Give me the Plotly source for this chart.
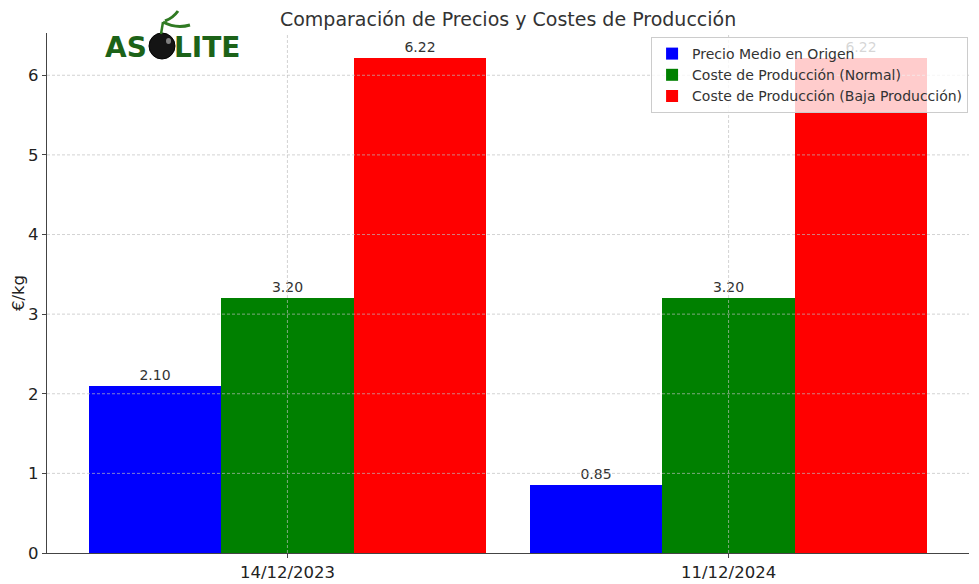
import plotly.graph_objects as go

fechas = ["14/12/2023", "11/12/2024"]
precio_origen = [2.10, 0.85]
coste_normal = [3.20, 3.20]
coste_baja = [6.22, 6.22]
series_names = ["Precio Medio en Origen", "Coste de Producción (Normal)", "Coste de Producción (Baja Producción)"]
series_colors = ["#0000ff", "#008000", "#ff0000"]
y_ticks = [0, 1, 2, 3, 4, 5, 6]

x_idx = list(range(len(fechas)))
offsets = [-0.3, 0.0, 0.3]
width = 0.3

# plot area in pixels
L, R, T, B = 47, 969, 33, 553
W, H = R - L, B - T


def px(x):
    return (x - L) / W


def py(y):
    return (B - y) / H


fig = go.Figure()
for vals, name, color, off in zip([precio_origen, coste_normal, coste_baja], series_names, series_colors, offsets):
    fig.add_trace(go.Bar(
        x=[i + off for i in x_idx], y=vals, width=width, name=name,
        marker=dict(color=color, line=dict(width=0)),
        text=[f"{v:.2f}" for v in vals], textposition="outside",
        textfont=dict(family="DejaVu Sans", size=14, color="#333333"),
        cliponaxis=False,
    ))

ymax = max(coste_baja) * 1.05
grid_style = dict(color="rgba(190,190,190,0.75)", width=0.9, dash="3px,2px")

fig.update_layout(
    width=979, height=584,
    margin=dict(l=L, r=979 - R, t=T, b=584 - B),
    plot_bgcolor="white", paper_bgcolor="white",
    barmode="overlay", bargap=0,
    font=dict(family="DejaVu Sans", color="#222222"),
    title=dict(text="Comparación de Precios y Costes de Producción", x=0.519, xanchor="center",
               y=0.967, yanchor="middle", font=dict(size=19, color="#333333")),
    xaxis=dict(range=[-0.545, 1.545], tickvals=x_idx, ticktext=fechas, automargin=False,
               showline=True, linecolor="#444444", linewidth=1.3,
               ticks="outside", ticklen=4, tickcolor="#444444",
               tickfont=dict(size=16.5, color="#222222"),
               showgrid=False, zeroline=False),
    yaxis=dict(range=[0, ymax], tickvals=y_ticks, automargin=False,
               showline=True, linecolor="#444444", linewidth=1.3,
               ticks="outside", ticklen=4, tickcolor="#444444",
               tickfont=dict(size=16.5, color="#222222"),
               showgrid=False, zeroline=False),
    legend=dict(x=0.999, y=py(37), xanchor="right", yanchor="top",
                bgcolor="rgba(255,255,255,0.8)", bordercolor="#cccccc", borderwidth=1,
                font=dict(size=14, color="#333333"), tracegroupgap=0),
)

# gridlines drawn above the bars (as in the reference)
for t in y_ticks[1:]:
    fig.add_shape(type="line", xref="paper", yref="y", x0=0, x1=1, y0=t, y1=t,
                  line=grid_style, layer="above")
for i in x_idx:
    fig.add_shape(type="line", xref="x", yref="paper", x0=i, x1=i, y0=0, y1=1,
                  line=grid_style, layer="above")

# y-axis title
fig.add_annotation(xref="paper", yref="paper", x=px(18), y=0.5, text="€/kg", textangle=-90,
                   showarrow=False, xanchor="center", yanchor="middle",
                   font=dict(size=16.5, color="#222222"))

# ASOLITE logo approximation
logo_font = dict(family="DejaVu Sans", size=28, color="#1c6218")
fig.add_annotation(xref="paper", yref="paper", x=px(149), y=py(47), xanchor="right",
                   yanchor="middle", text="<b>AS</b>", showarrow=False, font=logo_font)
fig.add_annotation(xref="paper", yref="paper", x=px(172), y=py(47), xanchor="left",
                   yanchor="middle", text="<b>LITE</b>", showarrow=False, font=logo_font)
fig.add_shape(type="circle", xref="paper", yref="paper",
              x0=px(149), x1=px(175), y0=py(59), y1=py(33),
              fillcolor="#141414", line=dict(color="#000000", width=1), layer="above")
fig.add_shape(type="circle", xref="paper", yref="paper",
              x0=px(166), x1=px(171), y0=py(44), y1=py(38),
              fillcolor="rgba(200,200,200,0.6)", line=dict(width=0), layer="above")
fig.add_shape(type="path", xref="paper", yref="paper",
              path=f"M {px(161)} {py(34)} Q {px(162)} {py(28)} {px(163)} {py(22)}",
              line=dict(color="#2f7a22", width=2.5), layer="above")
fig.add_shape(type="path", xref="paper", yref="paper",
              path=f"M {px(163)} {py(22)} Q {px(176)} {py(29)} {px(190)} {py(25)}",
              line=dict(color="#2f7a22", width=3), layer="above")
fig.add_shape(type="path", xref="paper", yref="paper",
              path=f"M {px(165)} {py(21)} Q {px(173)} {py(18)} {px(178)} {py(11)}",
              line=dict(color="#2f7a22", width=3), layer="above")

fig.write_html("out.html")
